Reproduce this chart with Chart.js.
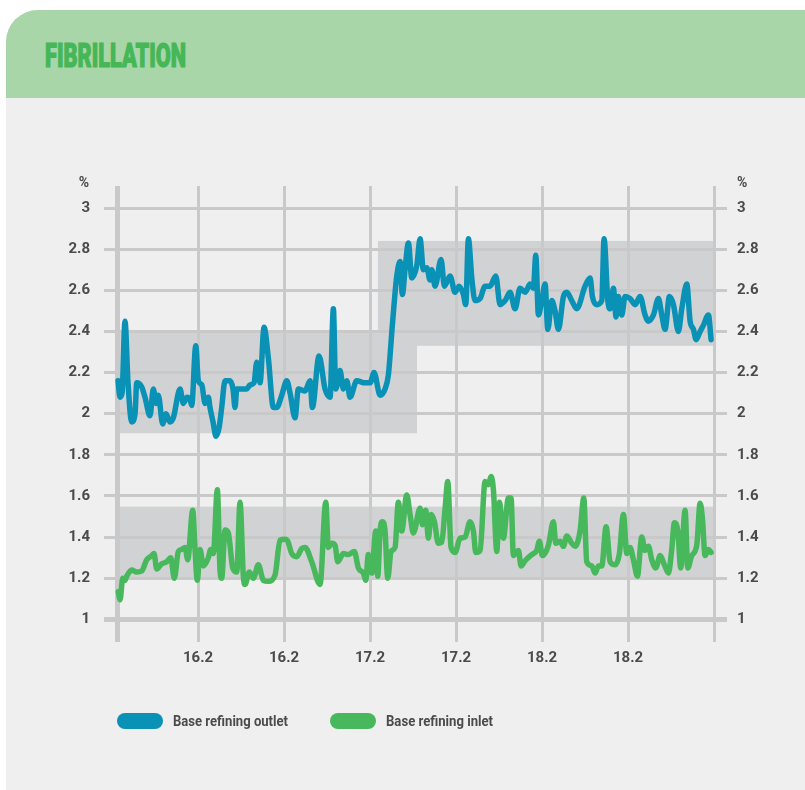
<!DOCTYPE html>
<html>
<head>
<meta charset="utf-8">
<title>Fibrillation</title>
<script src="https://cdn.jsdelivr.net/npm/chart.js@4.4.1/dist/chart.umd.min.js"></script>
<style>
  html, body { margin: 0; padding: 0; background: #ffffff; }
  body { width: 805px; height: 790px; position: relative; overflow: hidden; }
  #panel {
    position: absolute; left: 6px; top: 10px; right: 0; bottom: 0;
    background: #efefef; border-top-left-radius: 32px; overflow: hidden;
  }
  #header { height: 88px; background: #a9d6a9; }
  #title {
    position: absolute; left: 45px; top: 39px; margin: 0;
    font: 900 33px Roboto, sans-serif; -webkit-text-stroke: 1.2px #46b757;
    line-height: 33px; color: #46b757; white-space: nowrap;
    transform-origin: 0 0;
  }
  #fibrillationChart { position: absolute; left: 0; top: 0; }
  .legend-item { position: absolute; top: 713px; height: 16px; }
  .legend-swatch { position: absolute; left: 0; top: 0; width: 46px; height: 16px; border-radius: 8px; }
  .legend-text {
    position: absolute; top: -2px; white-space: nowrap; transform-origin: 0 50%;
    font: bold 15px Roboto, sans-serif; line-height: 20px; color: #4b4b4d;
  }
</style>
</head>
<body>
<div id="panel"><div id="header"></div></div>
<h1 id="title">FIBRILLATION</h1>
<canvas id="fibrillationChart" width="805" height="790"></canvas>
<div id="legend"></div>
<script>
// Series: time in hours from the start of the run, fibrillation in %
const outletHours = [
  0.84, 1.12, 1.40, 1.81, 2.23, 2.75, 3.21, 3.45, 4.14, 4.60, 5.30, 5.76, 6.14, 6.46, 7.07, 7.53,
  8.09, 8.55, 9.49, 9.95, 10.47, 10.88, 11.12, 11.68, 12.04, 12.52, 12.98, 13.44, 13.67, 14.09, 14.51, 14.93,
  15.30, 15.77, 16.47, 16.88, 17.16, 17.40, 18.79, 19.26, 19.81, 20.19, 20.65, 21.21, 21.81, 22.51, 22.98, 23.68,
  24.38, 24.84, 25.53, 26.00, 26.93, 27.63, 27.95, 28.88, 29.72, 30.42, 30.88, 31.21, 31.81, 32.28, 32.75, 33.21,
  34.14, 35.30, 36.00, 36.56, 37.40, 38.09, 38.56, 39.11, 39.73, 40.19, 40.51, 40.88, 41.35, 41.82, 42.52, 42.98,
  43.44, 43.91, 44.37, 44.61, 45.07, 45.91, 46.37, 47.16, 47.86, 48.42, 49.02, 49.35, 49.72, 50.19, 50.65, 51.35,
  52.05, 52.74, 53.54, 54.14, 54.84, 55.53, 56.23, 56.93, 57.63, 58.33, 58.79, 59.12, 59.49, 59.96, 60.42, 60.80,
  61.35, 61.81, 62.28, 62.98, 63.44, 64.14, 64.84, 66.00, 66.70, 67.02, 67.63, 68.33, 68.65, 69.17, 69.49, 69.95,
  70.33, 70.65, 71.12, 71.58, 72.28, 72.98, 73.67, 74.37, 74.84, 75.54, 76.23, 76.70, 77.16, 77.77, 78.33, 79.02,
  79.49, 80.19, 80.65, 81.12, 81.49, 82.05, 82.51, 83.21, 83.58
];
const outletValues = [
  2.16, 2.08, 2.10, 2.45, 2.15, 1.96, 2.00, 2.15, 2.13, 2.08, 1.99, 2.12, 2.05, 2.09, 1.95, 2.00,
  1.96, 1.98, 2.12, 2.05, 2.08, 2.07, 2.04, 2.33, 2.16, 2.14, 2.05, 2.08, 2.03, 1.96, 1.89, 1.93,
  2.03, 2.16, 2.16, 2.12, 2.03, 2.12, 2.12, 2.14, 2.15, 2.25, 2.15, 2.42, 2.27, 2.03, 2.03, 2.09,
  2.16, 2.10, 1.98, 2.12, 2.11, 2.16, 2.03, 2.28, 2.12, 2.08, 2.51, 2.12, 2.21, 2.12, 2.16, 2.08,
  2.16, 2.15, 2.15, 2.20, 2.09, 2.12, 2.19, 2.43, 2.67, 2.74, 2.58, 2.70, 2.83, 2.66, 2.72, 2.85,
  2.70, 2.71, 2.65, 2.70, 2.62, 2.75, 2.62, 2.67, 2.59, 2.62, 2.58, 2.53, 2.85, 2.66, 2.55, 2.56,
  2.62, 2.62, 2.67, 2.53, 2.55, 2.59, 2.51, 2.61, 2.59, 2.63, 2.61, 2.77, 2.48, 2.55, 2.63, 2.41,
  2.55, 2.50, 2.41, 2.57, 2.59, 2.55, 2.51, 2.62, 2.66, 2.57, 2.53, 2.55, 2.85, 2.55, 2.51, 2.61,
  2.47, 2.57, 2.48, 2.57, 2.56, 2.53, 2.57, 2.48, 2.45, 2.48, 2.56, 2.48, 2.41, 2.57, 2.53, 2.40,
  2.51, 2.63, 2.45, 2.41, 2.36, 2.40, 2.43, 2.48, 2.36
];

const inletHours = [
  0.88, 1.12, 1.49, 1.81, 2.05, 2.75, 3.45, 4.14, 4.84, 5.54, 5.86, 6.24, 6.93, 7.63, 8.19, 8.69,
  9.25, 9.73, 10.19, 10.56, 11.26, 11.58, 11.90, 12.28, 12.74, 13.44, 13.77, 14.14, 14.69, 15.07, 15.30, 15.77,
  16.23, 16.84, 17.40, 17.86, 18.32, 18.56, 19.16, 19.72, 20.41, 21.11, 21.81, 22.74, 23.44, 24.14, 24.52, 25.07,
  25.77, 26.47, 26.93, 27.86, 29.02, 29.82, 30.18, 30.65, 31.12, 31.49, 32.28, 32.97, 33.81, 34.37, 35.07, 35.40,
  35.76, 36.24, 36.80, 37.07, 37.40, 37.72, 38.09, 38.47, 38.93, 39.49, 39.95, 40.42, 41.12, 41.58, 42.04, 42.98,
  43.30, 43.77, 44.14, 44.51, 44.98, 45.53, 46.00, 46.47, 46.84, 47.30, 47.86, 48.56, 49.26, 49.95, 50.42, 50.75,
  51.35, 52.05, 52.51, 52.88, 53.21, 53.68, 54.04, 54.60, 55.30, 55.67, 56.00, 56.70, 57.07, 57.63, 58.56, 59.26,
  59.62, 60.04, 60.88, 61.58, 61.91, 62.51, 62.98, 63.44, 64.14, 64.60, 65.30, 65.82, 66.23, 66.93, 67.40, 67.86,
  68.33, 68.93, 69.49, 70.19, 70.79, 71.35, 71.82, 72.28, 72.74, 73.30, 73.91, 74.37, 74.84, 75.30, 75.86, 76.47,
  77.07, 77.63, 78.09, 78.46, 78.93, 79.35, 79.95, 80.33, 80.88, 81.58, 82.05, 82.37, 82.74, 83.21, 83.58
];
const inletValues = [
  1.135, 1.095, 1.20, 1.19, 1.21, 1.24, 1.23, 1.235, 1.29, 1.31, 1.32, 1.245, 1.27, 1.28, 1.30, 1.20,
  1.33, 1.34, 1.35, 1.29, 1.53, 1.34, 1.19, 1.34, 1.26, 1.30, 1.34, 1.32, 1.63, 1.24, 1.20, 1.435,
  1.42, 1.25, 1.23, 1.57, 1.21, 1.17, 1.23, 1.20, 1.265, 1.19, 1.185, 1.215, 1.385, 1.39, 1.38, 1.32,
  1.305, 1.345, 1.35, 1.28, 1.17, 1.57, 1.35, 1.37, 1.36, 1.28, 1.32, 1.315, 1.33, 1.25, 1.225, 1.19,
  1.315, 1.225, 1.43, 1.21, 1.43, 1.475, 1.43, 1.20, 1.33, 1.35, 1.57, 1.43, 1.605, 1.51, 1.42, 1.54,
  1.46, 1.53, 1.395, 1.51, 1.475, 1.37, 1.375, 1.54, 1.67, 1.35, 1.325, 1.395, 1.40, 1.475, 1.43, 1.325,
  1.335, 1.67, 1.655, 1.695, 1.63, 1.33, 1.57, 1.395, 1.59, 1.59, 1.31, 1.335, 1.26, 1.285, 1.315, 1.335,
  1.38, 1.31, 1.36, 1.475, 1.37, 1.38, 1.355, 1.405, 1.37, 1.355, 1.43, 1.59, 1.28, 1.26, 1.225, 1.26,
  1.26, 1.45, 1.28, 1.265, 1.32, 1.51, 1.32, 1.35, 1.29, 1.21, 1.40, 1.335, 1.355, 1.29, 1.25, 1.31,
  1.265, 1.225, 1.34, 1.47, 1.43, 1.25, 1.53, 1.25, 1.31, 1.36, 1.565, 1.49, 1.31, 1.34, 1.325
];

// Target ranges (grey bands)
const bandStart = [0.7, 37.1, 0.7];
const bandEnd = [42.55, 84, 84];
const bandLow = [1.905, 2.33, 1.197];
const bandHigh = [2.40, 2.84, 1.548];

// Axes
const xTickHours = [0.7, 12, 24, 36, 48, 60, 72, 84];
const xTickLabels = ['', '16.2', '16.2', '17.2', '17.2', '18.2', '18.2', ''];
const yTickValues = [1, 1.2, 1.4, 1.6, 1.8, 2, 2.2, 2.4, 2.6, 2.8, 3];
const yTickLabels = ['1', '1.2', '1.4', '1.6', '1.8', '2', '2.2', '2.4', '2.6', '2.8', '3'];

const seriesNames = ['Base refining outlet', 'Base refining inlet'];
const seriesColors = ['#0a91b6', '#48b85c'];

const textColor = '#4b4b4d';
const gridColor = '#c9c9c9';
const tickFont = { family: 'Roboto, sans-serif', size: 15, weight: 'bold' };

// squeeze the heading to the condensed width of the original
const title = document.getElementById('title');
title.style.transform = 'scaleX(' + (141 / title.getBoundingClientRect().width) + ')';

// legend, laid out like the original (swatch + condensed label)
const legendLeft = [117, 330];
const legendTextWidth = [115, 107];
const legend = document.getElementById('legend');
seriesNames.forEach((name, i) => {
    const item = document.createElement('div');
    item.className = 'legend-item';
    item.style.left = legendLeft[i] + 'px';
    const swatch = document.createElement('span');
    swatch.className = 'legend-swatch';
    swatch.style.background = seriesColors[i];
    const label = document.createElement('span');
    label.className = 'legend-text';
    label.style.left = '56px';
    label.textContent = name;
    item.appendChild(swatch);
    item.appendChild(label);
    legend.appendChild(item);
    label.style.transform = 'scaleX(' + (legendTextWidth[i] / label.getBoundingClientRect().width) + ')';
});

const bandsPlugin = {
    id: 'bands',
    beforeDraw(chart) {
        const { ctx, scales: { x, y } } = chart;
        ctx.save();
        ctx.fillStyle = '#d1d2d4';
        for (let i = 0; i < bandStart.length; i++) {
            const left = x.getPixelForValue(bandStart[i]);
            const right = x.getPixelForValue(bandEnd[i]);
            const top = y.getPixelForValue(bandHigh[i]);
            const bottom = y.getPixelForValue(bandLow[i]);
            ctx.fillRect(left, top, right - left, bottom - top);
        }
        ctx.restore();
    }
};

// "%" unit above both value axes
const unitPlugin = {
    id: 'unitLabels',
    afterDraw(chart) {
        const { ctx, scales: { y, y2 } } = chart;
        const top = y.getPixelForValue(3) - 25;
        ctx.save();
        ctx.font = 'bold 14px Roboto, sans-serif';
        ctx.fillStyle = textColor;
        ctx.textBaseline = 'middle';
        ctx.textAlign = 'right';
        ctx.fillText('%', y.right - 15, top);
        ctx.textAlign = 'left';
        ctx.fillText('%', y2.left + 10, top);
        ctx.restore();
    }
};

function valueAxis(position, width, padding) {
    return {
        type: 'linear',
        position: position,
        min: 0.89,
        max: 3.107,
        afterBuildTicks: scale => { scale.ticks = yTickValues.map(v => ({ value: v })); },
        afterFit: scale => { scale.width = width; },
        border: { display: false },
        grid: {
            display: position === 'left',
            color: gridColor,
            lineWidth: ctx => (ctx.tick && ctx.tick.value === 1 ? 5 : 3),
            drawTicks: false
        },
        ticks: {
            padding: padding,
            color: textColor,
            font: tickFont,
            callback: (value, index) => yTickLabels[index]
        }
    };
}

const ctx = document.getElementById('fibrillationChart').getContext('2d');
new Chart(ctx, {
    type: 'line',
    data: {
        datasets: [
            {
                label: seriesNames[0],
                data: outletHours.map((h, i) => ({ x: h, y: outletValues[i] })),
                borderColor: seriesColors[0],
                backgroundColor: seriesColors[0]
            },
            {
                label: seriesNames[1],
                data: inletHours.map((h, i) => ({ x: h, y: inletValues[i] })),
                borderColor: seriesColors[1],
                backgroundColor: seriesColors[1]
            }
        ]
    },
    options: {
        responsive: false,
        animation: false,
        layout: { padding: { top: 186, left: 0, right: 0, bottom: 119 } },
        elements: {
            line: { borderWidth: 5.5, cubicInterpolationMode: 'monotone', borderJoinStyle: 'round', borderCapStyle: 'round' },
            point: { radius: 0 }
        },
        scales: {
            x: {
                type: 'linear',
                min: -1.12,
                max: 85.8,
                afterBuildTicks: scale => { scale.ticks = xTickHours.map(v => ({ value: v })); },
                afterFit: scale => { scale.height = 29; },
                border: { display: false },
                grid: {
                    color: gridColor,
                    lineWidth: ctx => (ctx.index === 0 ? 5 : 3),
                    drawTicks: false
                },
                ticks: {
                    padding: 7,
                    color: textColor,
                    font: tickFont,
                    maxRotation: 0,
                    autoSkip: false,
                    callback: (value, index) => xTickLabels[index]
                }
            },
            y: valueAxis('left', 104, 14),
            y2: valueAxis('right', 78, 10)
        },
        plugins: {
            legend: { display: false },
            tooltip: { enabled: false }
        }
    },
    plugins: [bandsPlugin, unitPlugin]
});
</script>
</body>
</html>
